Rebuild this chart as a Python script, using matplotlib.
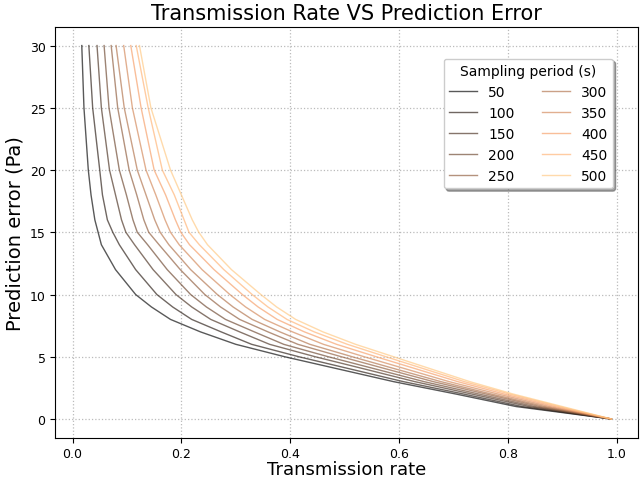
import matplotlib
matplotlib.use("Agg")
import matplotlib.pyplot as plt
import numpy as np

# Error thresholds (Pa) and the transmission rate reached for each sampling period
error_levels = [0, 1, 2, 3, 4, 5, 6, 7, 8, 9, 10, 12, 14, 15, 16, 18, 20, 25, 30]

sampling_periods = [50, 100, 150, 200, 250, 300, 350, 400, 450, 500]

rate_50 = [0.990, 0.815, 0.705, 0.590, 0.490, 0.390, 0.300, 0.235, 0.180, 0.145,
           0.116, 0.079, 0.053, 0.047, 0.041, 0.034, 0.029, 0.021, 0.017]
rate_100 = [0.990, 0.826, 0.719, 0.608, 0.512, 0.416, 0.329, 0.273, 0.219, 0.184,
            0.155, 0.116, 0.086, 0.074, 0.064, 0.055, 0.050, 0.037, 0.030]
rate_150 = [0.990, 0.839, 0.734, 0.629, 0.538, 0.446, 0.362, 0.307, 0.254, 0.219,
            0.190, 0.148, 0.114, 0.098, 0.090, 0.079, 0.068, 0.053, 0.045]
rate_200 = [0.990, 0.849, 0.747, 0.646, 0.558, 0.470, 0.388, 0.334, 0.281, 0.246,
            0.217, 0.174, 0.138, 0.119, 0.111, 0.099, 0.086, 0.067, 0.058]
rate_250 = [0.990, 0.859, 0.760, 0.663, 0.578, 0.494, 0.414, 0.359, 0.307, 0.272,
            0.243, 0.198, 0.159, 0.140, 0.131, 0.118, 0.104, 0.083, 0.071]
rate_300 = [0.990, 0.868, 0.770, 0.677, 0.595, 0.514, 0.436, 0.381, 0.330, 0.295,
            0.266, 0.217, 0.177, 0.161, 0.151, 0.135, 0.119, 0.095, 0.080]
rate_350 = [0.990, 0.877, 0.782, 0.692, 0.614, 0.536, 0.461, 0.404, 0.353, 0.318,
            0.289, 0.238, 0.196, 0.180, 0.170, 0.153, 0.135, 0.110, 0.094]
rate_400 = [0.990, 0.886, 0.793, 0.708, 0.633, 0.558, 0.485, 0.426, 0.376, 0.341,
            0.312, 0.260, 0.215, 0.199, 0.189, 0.171, 0.150, 0.126, 0.107]
rate_450 = [0.990, 0.894, 0.803, 0.720, 0.648, 0.576, 0.505, 0.444, 0.394, 0.359,
            0.330, 0.278, 0.233, 0.214, 0.205, 0.187, 0.165, 0.139, 0.117]
rate_500 = [0.990, 0.900, 0.810, 0.730, 0.660, 0.590, 0.520, 0.460, 0.410, 0.375,
            0.346, 0.292, 0.248, 0.232, 0.220, 0.200, 0.180, 0.144, 0.123]

rates = [rate_50, rate_100, rate_150, rate_200, rate_250,
         rate_300, rate_350, rate_400, rate_450, rate_500]

fig = plt.figure(figsize=(6.43, 4.81), dpi=100)
ax = fig.add_subplot(111)
fig.subplots_adjust(left=0.086, right=0.992, bottom=0.088, top=0.942)

colors = plt.cm.copper(np.linspace(0, 1, len(sampling_periods)))

for period, rate, c in zip(sampling_periods, rates, colors):
    ax.plot(rate, error_levels, color=c, alpha=0.65, linewidth=1.0, label=str(period))

ax.grid(True, linestyle=":", color="#bbbbbb", linewidth=0.9)

ax.set_title("Transmission Rate VS Prediction Error", fontsize=15)
ax.set_xlabel("Transmission rate", fontsize=13, labelpad=0)
ax.set_ylabel("Prediction error (Pa)", fontsize=14)
ax.tick_params(labelsize=9)

ax.legend(title="Sampling period (s)", ncol=2, loc="upper right",
          bbox_to_anchor=(0.957, 0.923), borderaxespad=0, shadow=True,
          fontsize=10, title_fontsize=10, columnspacing=2.0, handlelength=2.0)

plt.savefig("out.png", dpi=100)
